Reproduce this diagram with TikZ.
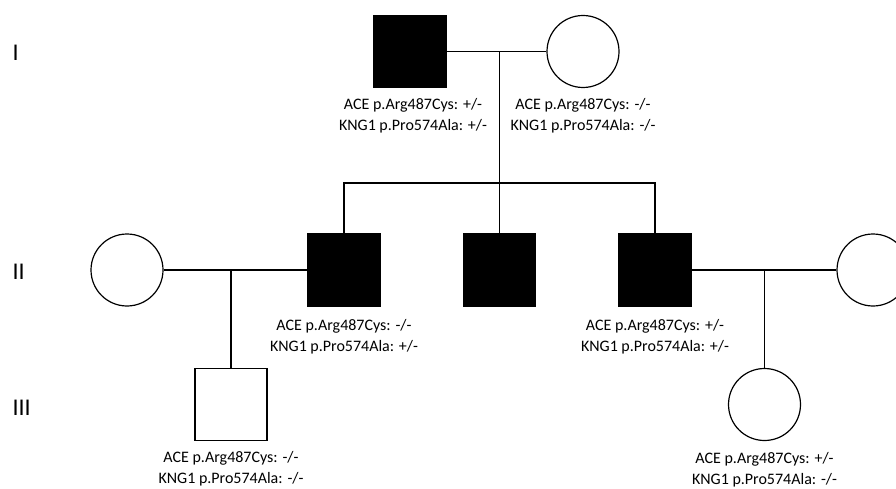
\documentclass[tikz,border=0pt]{standalone}
\usepackage{fontspec}
\setmainfont{Carlito}
\usetikzlibrary{positioning}

\tikzset{
  male/.style={draw, rectangle, minimum size=72pt, inner sep=0pt},
  female/.style={draw, circle, minimum size=72pt, inner sep=0pt},
  affected/.style={fill=black},
  geno/.style={align=center, inner sep=0pt, font=\fontsize{16}{21}\selectfont},
  gen/.style={anchor=west, inner sep=0pt, font=\fontsize{24}{26}\selectfont}
}

\begin{document}
\begin{tikzpicture}[x=1pt, y=-1pt, line width=1.2pt]
  \useasboundingbox (0,0) rectangle (896,489);

  % Generationen
  \node[gen] (genI)   at (12,53)  {I};
  \node[gen] (genII)  at (12,272) {II};
  \node[gen] (genIII) at (12,408) {III};

  % I
  \node[male, affected] (vater) at (410,51.5) {};
  \node[female] (mutter) at (583,51.5) {};
  \coordinate (ehe1) at (499.5,51.5);
  \coordinate (geschw) at (499.5,183);
  \draw (vater.east) -- (mutter.west);
  \draw (ehe1) -- (geschw);

  \node[geno, below=10pt of vater, xshift=3pt] (gvater)
    {ACE p.Arg487Cys: +/-\\KNG1 p.Pro574Ala: +/-};
  \node[geno, below=10pt of mutter] (gmutter)
    {ACE p.Arg487Cys: -/-\\KNG1 p.Pro574Ala: -/-};

  % II
  \node[female] (frauL) at (127,270) {};
  \node[male, affected] (sohn1) at (344,270) {};
  \node[male, affected] (sohn2) at (499.5,270) {};
  \node[male, affected] (sohn3) at (655,270) {};
  \node[female] (frauR) at (873,270) {};

  \draw (sohn1.north) |- (geschw) -| (sohn3.north);
  \draw (geschw) -- (sohn2.north);

  \draw (frauL.east) -- (sohn1.west);
  \draw (sohn3.east) -- (frauR.west);

  \node[geno, below=12pt of sohn1] (gsohn1)
    {ACE p.Arg487Cys: -/-\\KNG1 p.Pro574Ala: +/-};
  \node[geno, below=12pt of sohn3] (gsohn3)
    {ACE p.Arg487Cys: +/-\\KNG1 p.Pro574Ala: +/-};

  % III
  \node[male] (enkel) at (231,404.5) {};
  \node[female] (enkelin) at (764.5,404.5) {};
  \coordinate (ehe2) at (231,270);
  \coordinate (ehe3) at (764.5,270);
  \draw (ehe2) -- (enkel.north);
  \draw (ehe3) -- (enkelin.north);

  \node[geno, below=10pt of enkel] (genkel)
    {ACE p.Arg487Cys: -/-\\KNG1 p.Pro574Ala: -/-};
  \node[geno, below=11pt of enkelin] (genkelin)
    {ACE p.Arg487Cys: +/-\\KNG1 p.Pro574Ala: -/-};

\end{tikzpicture}
\end{document}
